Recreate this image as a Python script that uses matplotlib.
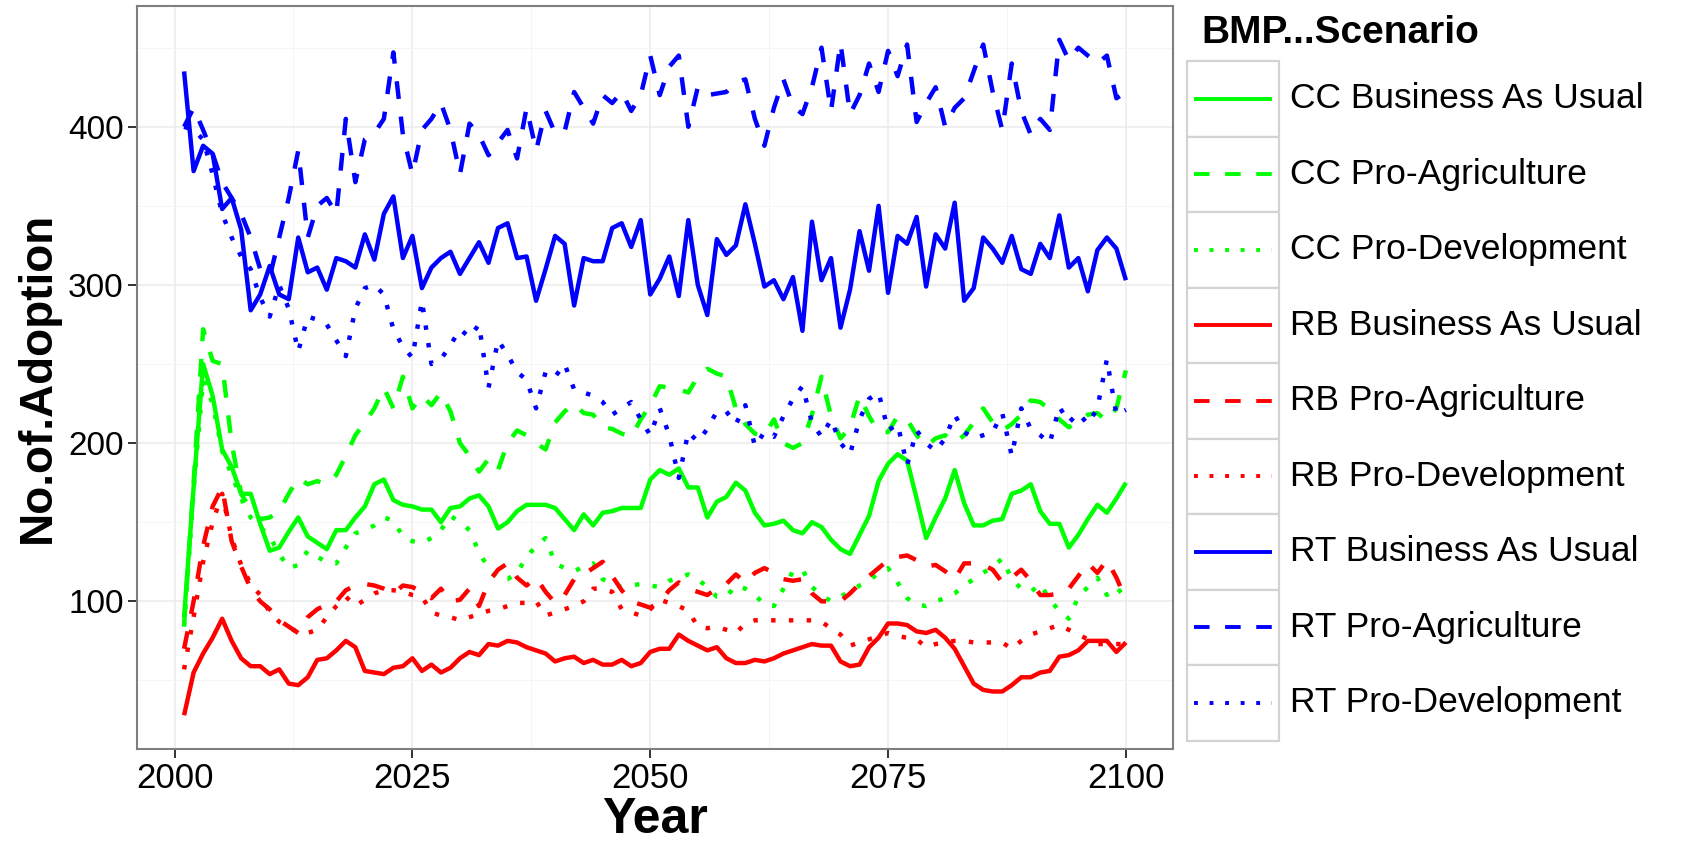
import matplotlib
matplotlib.use("Agg")
import matplotlib.pyplot as plt
from matplotlib.patches import Rectangle
from matplotlib.lines import Line2D
import numpy as np

years = list(range(2001, 2101))

cc_bau = [90, 172, 250, 230, 196, 185, 168, 168, 149, 132,
          134, 144, 153, 141, 137, 133, 145, 145, 153, 160,
          174, 177, 164, 161, 160, 158, 158, 150, 159, 160,
          165, 167, 160, 146, 150, 157, 161, 161, 161, 159,
          152, 145, 155, 148, 156, 157, 159, 159, 159, 177,
          183, 180, 184, 172, 172, 153, 163, 166, 175, 170,
          156, 148, 149, 151, 145, 143, 150, 147, 139, 133,
          130, 142, 154, 176, 187, 193, 189, 165, 140, 153,
          165, 183, 162, 148, 148, 151, 152, 168, 170, 174,
          157, 149, 149, 134, 142, 152, 161, 156, 165, 175]
cc_pa = [85, 175, 272, 252, 250, 200, 168, 158, 152, 153,
         157, 168, 178, 174, 176, 174, 180, 192, 205, 213,
         222, 235, 222, 242, 222, 230, 224, 232, 220, 200,
         192, 182, 190, 183, 200, 208, 205, 200, 196, 213,
         220, 225, 219, 218, 210, 209, 206, 204, 215, 224,
         236, 235, 234, 232, 242, 247, 244, 242, 222, 212,
         206, 205, 215, 200, 197, 200, 218, 242, 217, 203,
         210, 230, 217, 207, 207, 217, 215, 205, 198, 203,
         205, 200, 205, 213, 222, 213, 208, 212, 218, 227,
         226, 221, 215, 210, 214, 218, 219, 214, 222, 246]
cc_pd = [84, 170, 240, 225, 195, 180, 165, 153, 147, 141,
         130, 121, 123, 132, 128, 125, 124, 134, 143, 145,
         148, 153, 151, 141, 138, 137, 140, 145, 154, 150,
         145, 131, 121, 114, 114, 118, 128, 135, 140, 124,
         121, 119, 122, 124, 114, 111, 109, 110, 111, 110,
         109, 113, 115, 117, 114, 109, 103, 103, 110, 108,
         104, 98, 97, 108, 119, 120, 109, 104, 100, 103,
         106, 110, 113, 118, 121, 112, 102, 98, 97, 100,
         102, 105, 110, 114, 118, 122, 127, 114, 108, 106,
         111, 101, 94, 89, 103, 109, 115, 104, 109, 102]
rb_bau = [28, 55, 67, 77, 89, 75, 64, 59, 59, 54,
          57, 48, 47, 52, 63, 64, 69, 75, 71, 56,
          55, 54, 58, 59, 64, 56, 60, 55, 58, 64,
          68, 66, 73, 72, 75, 74, 71, 69, 67, 62,
          64, 65, 61, 63, 60, 60, 63, 59, 61, 68,
          70, 70, 79, 75, 72, 69, 71, 64, 61, 61,
          63, 62, 64, 67, 69, 71, 73, 72, 72, 62,
          59, 60, 71, 77, 86, 86, 85, 81, 80, 82,
          77, 70, 59, 48, 44, 43, 43, 47, 52, 52,
          55, 56, 65, 66, 69, 75, 75, 75, 68, 74]
rb_pa = [70, 100, 135, 160, 172, 138, 122, 108, 100, 95,
         88, 84, 80, 90, 95, 98, 100, 107, 110, 111,
         110, 108, 105, 110, 109, 106, 102, 108, 100, 101,
         108, 97, 112, 120, 124, 115, 110, 115, 106, 99,
         104, 114, 117, 121, 125, 116, 107, 100, 98, 96,
         100, 107, 112, 108, 106, 104, 108, 111, 117, 112,
         118, 121, 118, 114, 113, 114, 105, 100, 100, 100,
         105, 111, 116, 121, 126, 128, 129, 126, 122, 123,
         119, 114, 124, 124, 123, 120, 112, 115, 120, 113,
         104, 104, 105, 108, 116, 124, 118, 126, 115, 101]
rb_pd = [57, 90, 125, 150, 168, 140, 123, 111, 104, 93,
         87, 84, 80, 80, 82, 90, 97, 103, 97, 101,
         105, 107, 107, 106, 104, 103, 93, 91, 90, 88,
         90, 92, 94, 95, 97, 99, 99, 100, 91, 93,
         95, 97, 100, 108, 108, 106, 95, 93, 91, 95,
         101, 99, 97, 94, 84, 83, 84, 82, 80, 86,
         88, 88, 88, 88, 88, 88, 88, 87, 83, 79,
         72, 74, 76, 78, 80, 78, 77, 76, 71, 73,
         74, 75, 75, 74, 74, 74, 74, 70, 75, 79,
         81, 83, 85, 82, 79, 76, 73, 73, 73, 73]
rt_bau = [435, 372, 388, 383, 348, 355, 335, 284, 294, 312,
          294, 291, 330, 308, 311, 297, 317, 315, 311, 332,
          316, 345, 356, 317, 331, 298, 311, 317, 321, 307,
          317, 327, 314, 336, 339, 317, 318, 290, 310, 331,
          326, 287, 317, 315, 315, 336, 339, 324, 341, 294,
          304, 318, 293, 341, 300, 281, 329, 319, 325, 351,
          326, 299, 303, 291, 305, 271, 340, 303, 317, 273,
          297, 334, 309, 350, 295, 331, 326, 343, 299, 332,
          323, 352, 290, 298, 330, 323, 314, 331, 310, 307,
          326, 317, 344, 311, 317, 296, 322, 330, 323, 303]
rt_pa = [400, 412, 398, 383, 365, 355, 345, 330, 310, 305,
         330, 355, 385, 330, 350, 355, 345, 405, 365, 392,
         396, 405, 447, 395, 370, 398, 405, 415, 398, 370,
         402, 395, 382, 390, 398, 380, 412, 385, 410, 396,
         397, 422, 412, 402, 420, 415, 422, 410, 420, 445,
         420, 438, 445, 400, 425, 420, 421, 422, 428, 430,
         405, 388, 412, 430, 413, 408, 425, 450, 410, 453,
         408, 420, 440, 422, 448, 432, 452, 403, 415, 425,
         400, 412, 418, 435, 452, 422, 398, 440, 410, 395,
         405, 398, 455, 442, 450, 445, 440, 445, 418, 422]
rt_pd = [400, 398, 392, 370, 345, 330, 318, 310, 292, 280,
         300, 285, 258, 280, 278, 275, 265, 255, 285, 298,
         300, 294, 272, 261, 254, 290, 250, 253, 262, 272,
         267, 275, 235, 265, 256, 245, 240, 222, 245, 242,
         250, 234, 232, 230, 226, 218, 222, 226, 215, 205,
         222, 205, 178, 207, 201, 209, 220, 220, 212, 224,
         198, 207, 204, 217, 228, 236, 213, 204, 215, 200,
         193, 215, 228, 232, 208, 212, 186, 208, 200, 195,
         203, 218, 207, 203, 205, 207, 219, 192, 222, 209,
         205, 200, 223, 213, 219, 212, 222, 253, 218, 221]

labels = ["CC Business As Usual", "CC Pro-Agriculture", "CC Pro-Development",
          "RB Business As Usual", "RB Pro-Agriculture", "RB Pro-Development",
          "RT Business As Usual", "RT Pro-Agriculture", "RT Pro-Development"]
series = [cc_bau, cc_pa, cc_pd, rb_bau, rb_pa, rb_pd, rt_bau, rt_pa, rt_pd]
colors = ["#00FF00"] * 3 + ["#FF0000"] * 3 + ["#0000FF"] * 3
styles = ["solid", "dashed", "dotted"] * 3
dash_map = {"solid": None, "dashed": (4, 4), "dotted": (1, 3)}

W, H = 1692, 842
fig = plt.figure(figsize=(W / 100, H / 100), dpi=100)
fig.patch.set_facecolor("white")
L, R, T, B = 137, 1173, 6, 749
ax = fig.add_axes([L / W, 1 - B / H, (R - L) / W, (B - T) / H])

LW = 3.2
for ys, c, s in zip(series, colors, styles):
    ln, = ax.plot(years, ys, color=c, lw=LW, solid_joinstyle="round",
                  dash_capstyle="butt", solid_capstyle="butt")
    if dash_map[s] is not None:
        ln.set_dashes(dash_map[s])

allv = np.concatenate([np.array(s) for s in series])
lo, hi = allv.min(), allv.max()
pad = 0.05 * (hi - lo)
ax.set_ylim(lo - pad, hi + pad)
xpad = 0.05 * (years[-1] - years[0])
ax.set_xlim(years[0] - xpad, years[-1] + xpad)

ax.set_xticks([2000, 2025, 2050, 2075, 2100])
ax.set_xticks([2012.5, 2037.5, 2062.5, 2087.5], minor=True)
ax.set_yticks([100, 200, 300, 400])
ax.set_yticks([50, 150, 250, 350, 450], minor=True)
ax.grid(which="major", color="#EBEBEB", lw=1.1)
ax.grid(which="minor", color="#F4F4F4", lw=0.6)
ax.set_axisbelow(True)
for sp in ax.spines.values():
    sp.set_color("#7F7F7F")
    sp.set_linewidth(1.5)
ax.tick_params(which="major", direction="out", length=6.5, width=1.4, color="#333333")
ax.tick_params(which="minor", length=0)
ax.tick_params(axis="y", labelsize=24, pad=3)
ax.tick_params(axis="x", pad=3)
for lab in ax.get_yticklabels():
    lab.set_family(["Liberation Sans", "DejaVu Sans"])
for lab in ax.get_xticklabels():
    lab.set_family(["Liberation Sans Narrow", "Liberation Sans", "DejaVu Sans"])
    lab.set_fontsize(25)

ax.set_xlabel("Year", fontsize=36, fontweight="bold",
              family=["Liberation Sans", "DejaVu Sans"], labelpad=1)
ax.set_ylabel("No.of.Adoption", fontsize=33, fontweight="bold",
              family=["Liberation Sans", "DejaVu Sans"], labelpad=6)

# legend (manual, ggplot-like)
lg = fig.add_axes([0, 0, 1, 1])
lg.set_xlim(0, W)
lg.set_ylim(H, 0)
lg.axis("off")
lg.text(1201, 33, "BMP...Scenario", fontsize=28, fontweight="bold",
        family=["Liberation Sans", "DejaVu Sans"], va="center", ha="left")
row_h = 75.5
top0 = 61
for i, (lab, c, s) in enumerate(zip(labels, colors, styles)):
    y0 = top0 + i * row_h
    lg.add_patch(Rectangle((1187, y0), 92, row_h, facecolor="white",
                           edgecolor="#D3D3D3", lw=1.6))
    yc = y0 + row_h / 2
    kl = Line2D([1194, 1272], [yc, yc], color=c, lw=2.8, dash_capstyle="butt",
                solid_capstyle="butt")
    if dash_map[s] is not None:
        kl.set_dashes(dash_map[s])
    lg.add_line(kl)
    lg.text(1290, yc, lab, fontsize=25.5, family=["Liberation Sans", "DejaVu Sans"],
            va="center", ha="left")

fig.savefig("out.png", dpi=100, facecolor="white")
